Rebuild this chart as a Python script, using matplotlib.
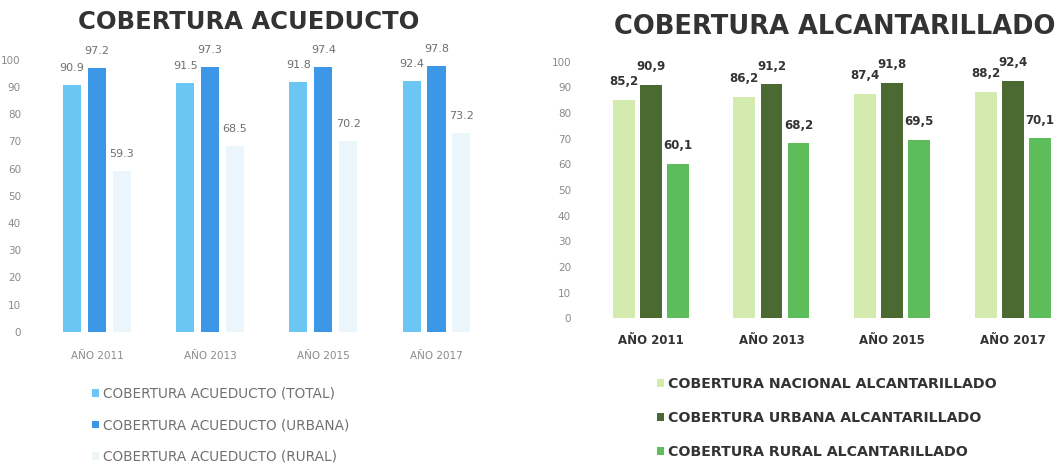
import matplotlib.pyplot as plt
import numpy as np

years = ["AÑO 2011", "AÑO 2013", "AÑO 2015", "AÑO 2017"]

# Acueducto
acu_total = [90.9, 91.5, 91.8, 92.4]
acu_urbana = [97.2, 97.3, 97.4, 97.8]
acu_rural = [59.3, 68.5, 70.2, 73.2]
acu_names = ["COBERTURA ACUEDUCTO (TOTAL)", "COBERTURA ACUEDUCTO (URBANA)",
             "COBERTURA ACUEDUCTO (RURAL)"]

# Alcantarillado
alc_nacional = [85.2, 86.2, 87.4, 88.2]
alc_urbana = [90.9, 91.2, 91.8, 92.4]
alc_rural = [60.1, 68.2, 69.5, 70.1]
alc_names = ["COBERTURA NACIONAL ALCANTARILLADO", "COBERTURA URBANA ALCANTARILLADO",
             "COBERTURA RURAL ALCANTARILLADO"]

fig = plt.figure(figsize=(10.62, 4.68), dpi=100)
ax1 = fig.add_axes([0.038, 0.291, 0.405, 0.581])
ax2 = fig.add_axes([0.556, 0.320, 0.442, 0.548])


def draw(ax, series, names, colors, width, step, lab_kw, tick_kw, xlim, xpad):
    x = np.arange(len(years))
    for i, (vals, name, c) in enumerate(zip(series, names, colors)):
        bars = ax.bar(x + (i - 1) * step, vals, width, color=c, label=name)
        for b, v in zip(bars, vals):
            txt = f"{v:.1f}"
            if lab_kw.get("comma"):
                txt = txt.replace(".", ",")
            ax.annotate(txt, (b.get_x() + b.get_width() / 2, v), xytext=(0, 8.5),
                        textcoords="offset points", ha="center", va="bottom",
                        fontsize=lab_kw["size"], color=lab_kw["color"],
                        fontweight=lab_kw["weight"], annotation_clip=False)
    ax.set_ylim(0, 100)
    ax.set_xlim(*xlim)
    ax.set_yticks(range(0, 101, 10))
    ax.set_xticks(x)
    ax.set_xticklabels(years, **tick_kw)
    ax.tick_params(axis="y", length=0, labelsize=7.5, labelcolor="#8a8a8a", pad=14)
    ax.tick_params(axis="x", length=0, pad=xpad)
    for s in ax.spines.values():
        s.set_visible(False)


draw(ax1, [acu_total, acu_urbana, acu_rural], acu_names,
     ["#6cc6f4", "#3c97e6", "#eaf5fc"], 0.16, 0.22,
     {"size": 8, "color": "#6f6f6f", "weight": "normal"},
     {"fontsize": 7.5, "color": "#8a8a8a"}, (-0.5, 3.3), 14)
draw(ax2, [alc_nacional, alc_urbana, alc_rural], alc_names,
     ["#d3ebae", "#4b6a32", "#5cbd5a"], 0.18, 0.225,
     {"size": 8.5, "color": "#333333", "weight": "bold", "comma": True},
     {"fontsize": 8.5, "color": "#333333", "fontweight": "bold"}, (-0.5, 3.39), 11)

fig.text(0.234, 0.953, "COBERTURA ACUEDUCTO", ha="center", va="center",
         fontsize=17.5, fontweight="bold", color="#333333")
fig.text(0.786, 0.942, "COBERTURA ALCANTARILLADO", ha="center", va="center",
         fontsize=18.5, fontweight="bold", color="#333333")

leg1 = ax1.legend(loc="upper left", bbox_to_anchor=(0.080, 0.188),
                  bbox_transform=fig.transFigure, frameon=False, fontsize=9.8,
                  handlelength=0.5, handleheight=0.5, handletextpad=0.3,
                  labelspacing=1.28, borderpad=0)
for t in leg1.get_texts():
    t.set_color("#707070")

leg2 = ax2.legend(loc="upper left", bbox_to_anchor=(0.612, 0.209),
                  bbox_transform=fig.transFigure, frameon=False,
                  prop={"size": 10.2, "weight": "bold"},
                  handlelength=0.5, handleheight=0.5, handletextpad=0.3,
                  labelspacing=1.4, borderpad=0)
for t in leg2.get_texts():
    t.set_color("#333333")

fig.savefig("out.png", dpi=100)
